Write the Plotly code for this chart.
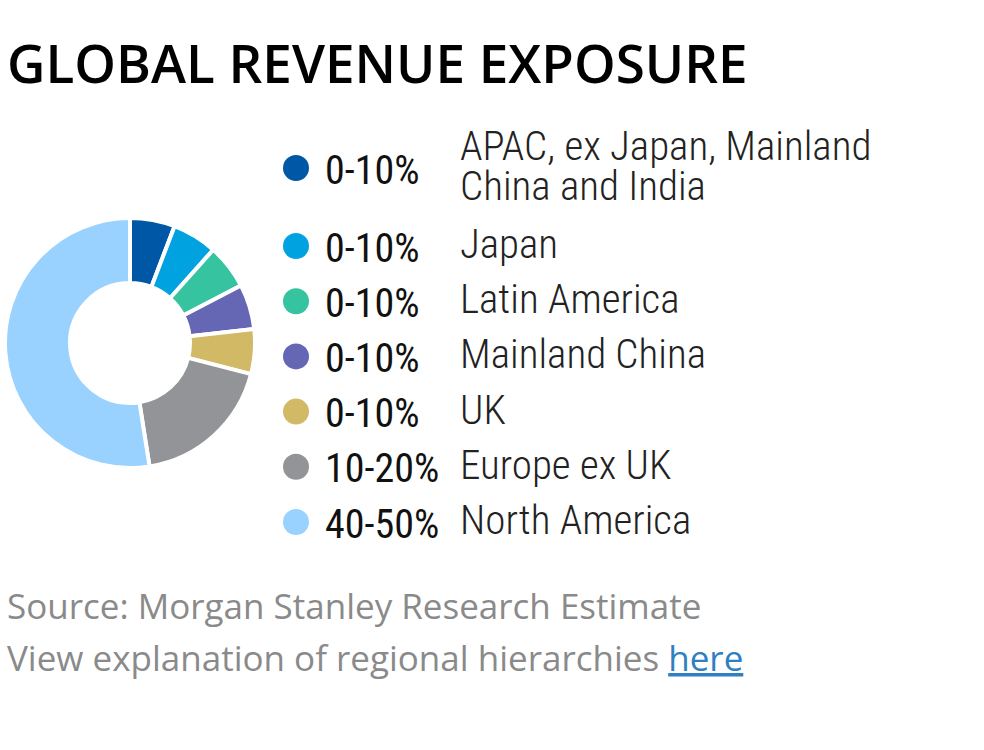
import plotly.graph_objects as go

regions = ["APAC, ex Japan, Mainland<br>China and India", "Japan", "Latin America",
           "Mainland China", "UK", "Europe ex UK", "North America"]
ranges = ["0-10%", "0-10%", "0-10%", "0-10%", "0-10%", "10-20%", "40-50%"]
values = [5.8, 5.8, 5.8, 5.8, 5.8, 18.5, 52.5]
colors = ["#0057A5", "#00A3E0", "#35C3A0", "#6667B4", "#D2B966", "#939498", "#99D1FF"]

title = "GLOBAL REVENUE EXPOSURE"
source = "Source: Morgan Stanley Research Estimate"
note = "View explanation of regional hierarchies "
link = "here"

W, H = 984, 750
fig = go.Figure()

# donut
cx, cy, r = 130, 343, 125
fig.add_trace(go.Pie(
    values=values, labels=[x.replace("<br>", " ") for x in regions],
    marker=dict(colors=colors, line=dict(color="white", width=4)),
    hole=0.48, sort=False, direction="clockwise", rotation=0,
    textinfo="none", hoverinfo="label+value", showlegend=False,
    domain=dict(x=[(cx - r) / W, (cx + r) / W], y=[1 - (cy + r) / H, 1 - (cy - r) / H]),
))

# legend rows
row_y = [168] + [246 + 55.2 * i for i in range(len(regions) - 1)]
dot_x = 296
fig.add_trace(go.Scatter(
    x=[dot_x] * len(regions), y=row_y, mode="markers",
    marker=dict(color=colors, size=26, line=dict(width=0)),
    hoverinfo="skip", showlegend=False, xaxis="x", yaxis="y",
))

cond = "Roboto Condensed, Liberation Sans Narrow, Roboto"
annotations = []
for i, (reg, rg) in enumerate(zip(regions, ranges)):
    ry = row_y[i]
    annotations.append(dict(x=323, y=ry + 2, xref="x", yref="y", text=rg, showarrow=False,
                            xanchor="left", yanchor="middle",
                            font=dict(family=cond, size=40, color="#111111")))
    lines = reg.split("<br>")
    n = len(lines)
    for j, ln in enumerate(lines):
        ly = ry - 2 + (j - (n - 1) / 2) * 40
        annotations.append(dict(x=458, y=ly, xref="x", yref="y", text=ln, showarrow=False,
                                xanchor="left", yanchor="middle", align="left",
                                font=dict(family=cond, size=41, color="#222222", weight=300)))

annotations.append(dict(x=5, y=62, xref="x", yref="y", text=title, showarrow=False,
                        xanchor="left", yanchor="middle",
                        font=dict(family="Open Sans", size=53, color="#000000", weight=600)))
annotations.append(dict(x=5, y=605, xref="x", yref="y", text=source, showarrow=False,
                        xanchor="left", yanchor="middle",
                        font=dict(family="Open Sans", size=35, color="#8a8a8a")))
annotations.append(dict(x=5, y=657, xref="x", yref="y",
                        text=note + f"<span style='color:#2f7fc1'><u>{link}</u></span>",
                        showarrow=False, xanchor="left", yanchor="middle",
                        font=dict(family="Open Sans", size=35, color="#8a8a8a")))

fig.update_layout(
    width=W, height=H, margin=dict(l=0, r=0, t=0, b=0),
    paper_bgcolor="white", plot_bgcolor="rgba(0,0,0,0)",
    xaxis=dict(range=[0, W], visible=False, fixedrange=True),
    yaxis=dict(range=[H, 0], visible=False, fixedrange=True),
    annotations=annotations, showlegend=False,
)

fig.write_html("out.html")
